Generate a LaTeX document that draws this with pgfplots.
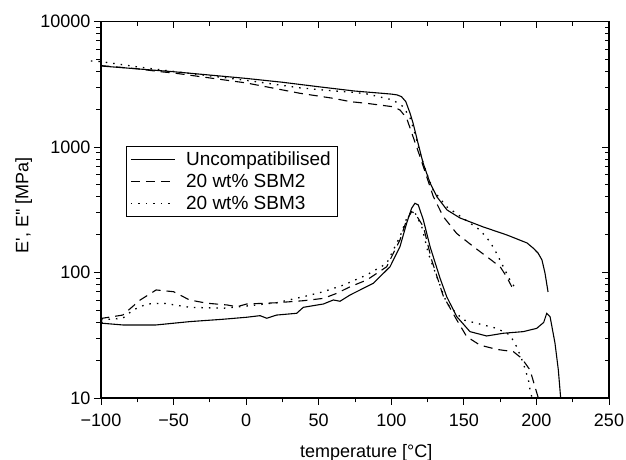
\documentclass[border=0pt]{standalone}
\usepackage{fontspec}
\setmainfont{Liberation Sans}
\usepackage{pgfplots}
\pgfplotsset{compat=1.18}
\newcommand{\ff}{\fontsize{18}{21}\selectfont}
\newcommand{\ft}{\fontsize{18}{21}\selectfont}
\newcommand{\fl}{\fontsize{19}{22}\selectfont}
\begin{document}
\begin{tikzpicture}
\begin{axis}[
  scale only axis, width=508pt, height=376.5pt,
  xmin=-100, xmax=250, ymode=log, ymin=10, ymax=10000,
  xtick={-100,-50,0,50,100,150,200,250},
  minor x tick num=1,
  ytick={10,100,1000,10000},
  major tick length=7pt, minor tick length=4.5pt,
  every tick/.style={line width=0.9pt, black},
  axis line style={line width=1.2pt},
  xtick pos=left, ytick pos=left, tick align=outside,
  /pgf/number format/assume math mode=true,
  xticklabels={−100,−50,0,50,100,150,200,250},
  yticklabels={10,100,1000,10000},
  tick label style={font=\ft},
  xticklabel style={yshift=-5pt},
  xlabel={temperature [°C]},
  ylabel={E\textquotesingle, E\textquotesingle\textquotesingle{} [MPa]},
  label style={font=\ff},
  xlabel style={at={(axis description cs:0.522,-0.158)}, anchor=base},
  ylabel style={at={(axis description cs:-0.152,0.512)}, anchor=center},
  clip=false,
  legend cell align=left,
  legend style={at={(rel axis cs:0.049,0.669)}, anchor=north west, draw=black, line width=0.9pt,
    font=\fl, inner xsep=4pt, inner ysep=3pt, row sep=2pt, nodes={inner sep=2.5pt},
    /tikz/column 1/.style={column sep=8pt}},
  legend image code/.code={\draw[#1] (0pt,0pt) -- (44pt,0pt);},
]
\coordinate (bl) at (rel axis cs:0,0);
\coordinate (tr) at (rel axis cs:1,1);
% E' Uncompatibilised
\addplot[black, line width=1.1pt, solid] coordinates {
(-100,4420) (-50,3980) (0,3520) (25,3280) (50,3020) (75,2790) (90,2700) (100,2640) (104,2600) (107,2520) (110,2300) (113,1850) (115,1550) (118.4,1076) (121.9,746) (126.7,517) (131.5,400) (138.4,315) (147.3,272) (163.2,231) (179.7,199) (193.5,172) (197.6,157) (201.1,143) (203.8,126) (205.9,99) (208,70)
};
\addlegendentry{Uncompatibilised}
% E' SBM2
\addplot[black, line width=1.1pt, dash pattern=on 9pt off 6pt] coordinates {
(-100,4450) (-75,4200) (-59,3980) (-50,3890) (0,3240) (37,2680) (60,2443) (72,2296) (83,2228) (101,2094) (106,1972) (110.6,1694) (115,1208) (119.8,837) (124.4,580) (129,402) (135.8,279) (145,205) (156.5,161) (165.7,134) (175,111) (179.5,92.6) (183,77)
};
\addlegendentry{20 wt\% SBM2}
% E' SBM3
\addplot[black, line width=1.3pt, dash pattern=on 1.5pt off 6pt] coordinates {
(-107,4850) (-100,4790) (-75,4350) (-50,4000) (0,3400) (37,2960) (60,2800) (72,2740) (83,2650) (101,2371) (108.3,2094) (113,1694) (116.3,1285) (119.8,890) (124.4,617) (129,450) (138.2,334) (149.6,270) (161.1,218) (168,176) (172.6,142) (177.2,111) (181.8,87) (186.4,72)
};
\addlegendentry{20 wt\% SBM3}
% E'' Uncompatibilised
\addplot[black, line width=1.1pt, solid, forget plot] coordinates {
(-100,41.5) (-99,39.4) (-85,38.2) (-62,38.2) (-39,40.6) (-16,42.4) (0.4,44) (9.6,45.3) (14.2,43.2) (21,45.8) (34.8,47.3) (39.4,52.8) (53.2,56.1) (60.1,60.4) (64.7,59) (71.6,66.2) (87.6,82) (99.1,111) (106,161) (110.6,247) (114,325) (116.3,356) (118.6,345) (122.1,262) (126.7,161) (133.6,90) (138.2,64.1) (145.1,44.5) (154.2,33.8) (165.7,31.2) (177.2,32.8) (191,33.8) (200.2,35.9) (205,40) (207.1,47.3) (209.4,44.5) (212.8,27.3) (215.1,16.7) (216.7,10)
};
% E'' SBM2
\addplot[black, line width=1.1pt, dash pattern=on 9pt off 6pt, forget plot] coordinates {
(-100,42) (-99,43.2) (-85,45.8) (-73,60.4) (-62,72.6) (-50,70.3) (-39,60.4) (-27,56.9) (-13,55.1) (-6.5,53.3) (0.4,56.1) (21,57.4) (39.4,59.6) (53.2,62.2) (62.4,68.2) (71.6,77) (83,87) (96.8,111) (106,182) (110.6,262) (114,305) (116.3,297) (122.1,232) (127.8,126) (135.8,65) (145.1,41.9) (152,30.8) (161.1,26.4) (172.6,24.4) (184.1,23.4) (189.9,20.7) (195.6,16.7) (199,12.3) (201.3,10)
};
% E'' SBM3
\addplot[black, line width=1.3pt, dash pattern=on 1.5pt off 6pt, forget plot] coordinates {
(-100,42) (-85,43.2) (-78,50.2) (-68.5,56.1) (-57,56.9) (-38.7,52.8) (-15.7,51.9) (0.4,54.1) (21,57.4) (39.4,64.1) (53.2,70.3) (67,79.4) (83,95.5) (96.8,118) (106,193) (110.6,270) (114,305) (116.3,300) (121,232) (125.5,142) (131.3,93) (138.2,57) (140.5,53.3) (149.6,41.9) (158.9,39.4) (172.6,35.9) (181.8,31.8) (186.4,25.6) (191,18.9) (194.5,13.9) (195.6,11.6) (197,10)
};
\end{axis}
\begin{axis}[
  scale only axis, width=508pt, height=376.5pt,
  xmin=-100, xmax=250, ymode=log, ymin=10, ymax=10000,
  xtick={-100,-50,0,50,100,150,200,250},
  minor x tick num=1,
  ytick={10,100,1000,10000},
  major tick length=7pt, minor tick length=4.5pt,
  every tick/.style={line width=0.9pt, black},
  axis line style={line width=1.2pt},
  xtick pos=right, ytick pos=right, tick align=inside,
  xticklabels={}, yticklabels={},
]
\end{axis}
\pgfresetboundingbox
\path ([shift={(-101pt,-62pt)}]bl) rectangle ([shift={(17pt,21.5pt)}]tr);
\end{tikzpicture}
\end{document}
